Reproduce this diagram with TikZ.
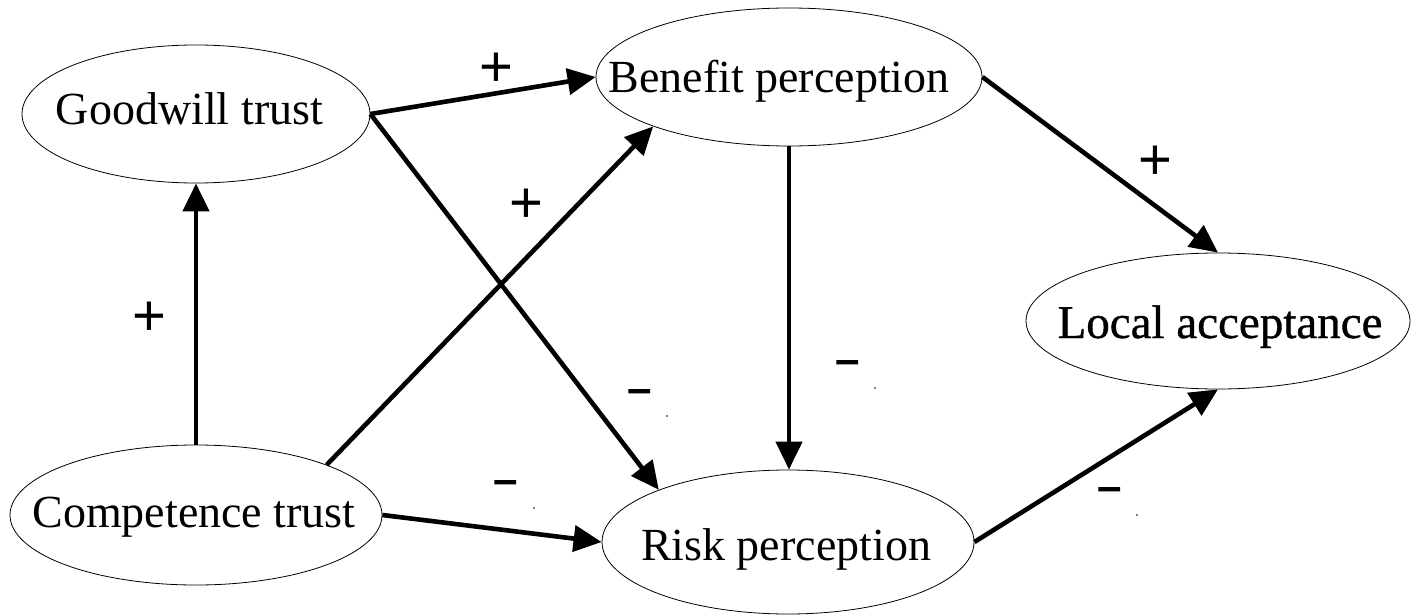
\documentclass[tikz,border=0pt]{standalone}
\usepackage{fontspec}
\setmainfont{Liberation Serif}
\newfontfamily\heavyfont[FakeBold=0.8]{Liberation Serif}
\newfontfamily\signfont{Liberation Sans}
\usetikzlibrary{arrows.meta,shapes.geometric}
\begin{document}
\begin{tikzpicture}[x=1pt,y=-1pt,
  construct/.style={draw,ellipse,line width=0.8pt,inner sep=0pt},
  label text/.style={anchor=base,inner sep=0pt,font=\fontsize{46}{50}\selectfont},
  link/.style={line width=4.6pt,-{Triangle[length=28pt,width=26pt]}},
  plus/.style={font=\signfont\fontsize{58}{60}\selectfont,inner sep=0pt},
  minus/.style={font=\signfont\bfseries\fontsize{44}{46}\selectfont,inner sep=0pt},
  speck/.style={circle,fill=black,inner sep=0pt,minimum size=1.6pt}]
\useasboundingbox (0,0) rectangle (1416,615);
\node[construct,minimum width=348pt,minimum height=138pt] (good) at (196,114) {};
\node[construct,minimum width=386pt,minimum height=138pt] (ben) at (789,77) {};
\node[construct,minimum width=384pt,minimum height=136pt] (loc) at (1218,321) {};
\node[construct,minimum width=372pt,minimum height=140pt] (comp) at (196,515) {};
\node[construct,minimum width=372pt,minimum height=144pt] (risk) at (788,542) {};

\node[label text] (goodT) at (189.5,125) {Goodwill trust};
\node[label text] (benT) at (779,93) {Benefit perception};
\node[label text,font=\heavyfont\fontsize{47}{50}\selectfont] (locT) at (1220,338) {Local acceptance};
\node[label text] (compT) at (194,527) {Competence trust};
\node[label text] (riskT) at (786,560) {Risk perception};

\draw[link] (comp.north) -- (good.south);
\draw[link] (good.east) -- (ben.west);
\draw[link] (good.east) -- (risk.158);
\draw[link] (comp.21) -- (ben.200);
\draw[link] (comp.east) -- (risk.west);
\draw[link] (ben.south) -- (ben.south |- risk.north);
\draw[link] (ben.east) -- (loc.north);
\draw[link] (risk.east) -- (loc.south);

\node[plus] (p1) at (496,70) {+};
\node[plus] (p2) at (526,206) {+};
\node[plus] (p3) at (149,319) {+};
\node[plus] (p4) at (1155,163) {+};
\node[minus] (m1) at (640,397) {–};
\node[minus] (m2) at (506,488) {–};
\node[minus] (m3) at (848,368) {–};
\node[minus] (m4) at (1110,495) {–};
\node[speck] (d1) at (667,416) {};
\node[speck] (d2) at (534,508) {};
\node[speck] (d3) at (875,388) {};
\node[speck] (d4) at (1137,515) {};
\end{tikzpicture}
\end{document}
